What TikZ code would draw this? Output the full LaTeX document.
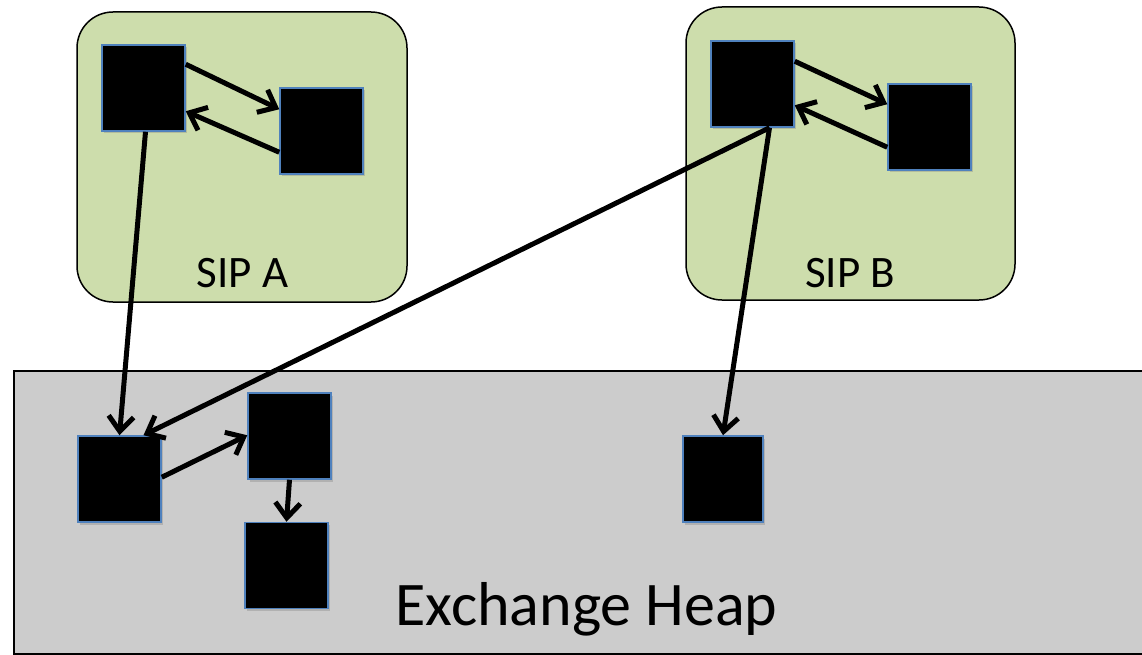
\documentclass[tikz,border=0pt]{standalone}
\usepackage{fontspec}
\setmainfont{Carlito}
\usetikzlibrary{arrows.meta,shadows}
\definecolor{sipgreen}{HTML}{CDDDAC}
\definecolor{heapgray}{HTML}{CCCCCC}
\definecolor{boxblue}{HTML}{4F81BD}
\tikzset{
  obj/.style={draw=boxblue, fill=black, line width=1.5pt, inner sep=0pt,
    minimum width=83pt, minimum height=86pt,
    drop shadow={opacity=0.35, shadow xshift=1.5pt, shadow yshift=-2.5pt}},
  sip/.style={draw=black, fill=sipgreen, line width=1.5pt, rounded corners=36pt, inner sep=0pt},
  heap/.style={draw=black, fill=heapgray, line width=1.5pt, inner sep=0pt},
  ptr/.style={line width=5pt, -{Straight Barb[length=15pt,width=25pt,line width=5pt]}},
  siplabel/.style={anchor=base, font=\fontsize{45}{45}\selectfont, inner sep=0pt},
  heaplabel/.style={anchor=base, font=\fontsize{62}{62}\selectfont, inner sep=0pt}
}
\begin{document}
\begin{tikzpicture}[x=1pt,y=-1pt]
\clip (0,0) rectangle (1142,655);
\fill[white] (0,0) rectangle (1142,655);
% containers
\node[heap, minimum width=1160pt, minimum height=283pt, anchor=north west] (heapbox) at (13,370) {};
\node[sip, minimum width=330pt, minimum height=290pt] (sipA) at (242,157) {};
\node[sip, minimum width=329pt, minimum height=293pt] (sipB) at (850.5,153.5) {};
% labels
\node[siplabel] (labA) at (242.5,287) {SIP A};
\node[siplabel] (labB) at (850,287) {SIP B};
\node[heaplabel] (labH) at (586.5,625) {Exchange Heap};
% objects
\node[obj] (a1) at (143.5,88) {};
\node[obj] (a2) at (321.5,131) {};
\node[obj] (b1) at (752.5,84) {};
\node[obj] (b2) at (929.5,127) {};
\node[obj] (h1) at (119.5,479) {};
\node[obj] (h2) at (289.5,436) {};
\node[obj] (h3) at (286.5,565.5) {};
\node[obj, minimum width=80pt] (h4) at (723,479) {};
% pointers
\draw[ptr] ([yshift=-20pt]a1.north east) -- ([yshift=-22pt]a2.north west);
\draw[ptr] ([yshift=-65pt]a2.north west) -- ([yshift=-67pt]a1.north east);
\draw[ptr] ([yshift=-21pt]b1.north east) -- ([yshift=-21pt]b2.north west);
\draw[ptr] ([yshift=-64pt]b2.north west) -- ([yshift=-65pt]b1.north east);
\draw[ptr] ([xshift=2pt]a1.south) -- (h1.north);
\draw[ptr] ([xshift=17pt]b1.south) -- ([xshift=24pt]h1.north);
\draw[ptr] ([xshift=17pt]b1.south) -- (h4.north);
\draw[ptr] ([yshift=-42pt]h1.north east) -- ([yshift=-43pt]h2.north west);
\draw[ptr] (h2.south) -- (h3.north);
\end{tikzpicture}
\end{document}
